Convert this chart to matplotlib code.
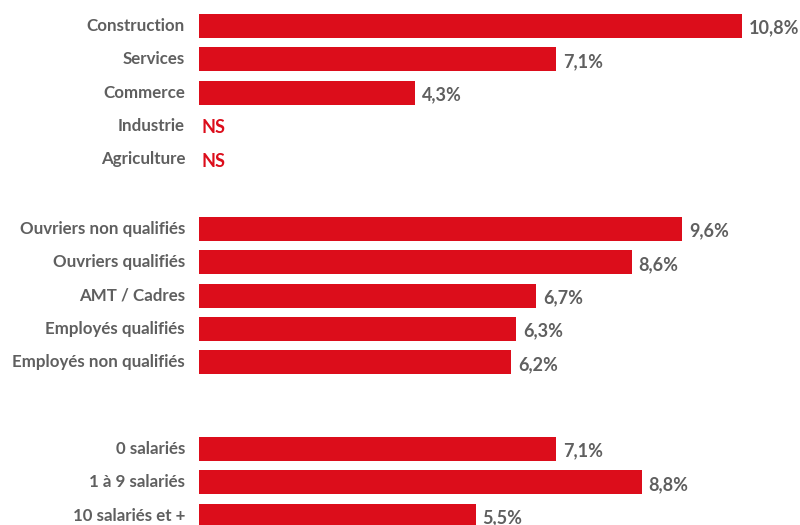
"""Horizontal bar chart: share by sector, job category and company size."""

import matplotlib.pyplot as plt

# Data
sector_labels = ["Construction", "Services", "Commerce", "Industrie", "Agriculture"]
sector_values = [10.8, 7.1, 4.3, None, None]

job_labels = ["Ouvriers non qualifiés", "Ouvriers qualifiés", "AMT / Cadres",
              "Employés qualifiés", "Employés non qualifiés"]
job_values = [9.6, 8.6, 6.7, 6.3, 6.2]

size_labels = ["0 salariés", "1 à 9 salariés", "10 salariés et +"]
size_values = [7.1, 8.8, 5.5]

groups = [(sector_labels, sector_values), (job_labels, job_values), (size_labels, size_values)]

RED = "#dc0d1b"
GREY = "#5f5f5f"
FONT = "Lato"

# Layout (y in pixels from the top)
group_start = [26, 229, 449]
row_step = 33.3
bar_height = 24
px_per_pct = 50.3
x0 = 199

fig = plt.figure(figsize=(8, 5.25), dpi=100)
ax = fig.add_axes([0, 0, 1, 1])
ax.set_xlim(-x0 / px_per_pct, (800 - x0) / px_per_pct)
ax.set_ylim(525, 0)
ax.axis("off")

for (labels, values), start in zip(groups, group_start):
    for i, (label, val) in enumerate(zip(labels, values)):
        y = start + i * row_step
        ax.annotate(label, (0, y), xytext=(-10, 0), textcoords="offset points",
                    ha="right", va="center", fontsize=12.2, fontweight="bold",
                    color=GREY, family=FONT)
        if val is None:
            ax.annotate("NS", (0, y), xytext=(1.5, -1.5), textcoords="offset points",
                        ha="left", va="center", fontsize=13, fontweight="bold",
                        color=RED, family=FONT)
            continue
        ax.barh(y, val, height=bar_height, left=0, color=RED)
        ax.annotate(f"{val:.1f}%".replace(".", ","), (val, y), xytext=(5, -1.5),
                    textcoords="offset points", ha="left", va="center",
                    fontsize=13, fontweight="bold", color=GREY, family=FONT)

fig.savefig("out.png", dpi=100)
